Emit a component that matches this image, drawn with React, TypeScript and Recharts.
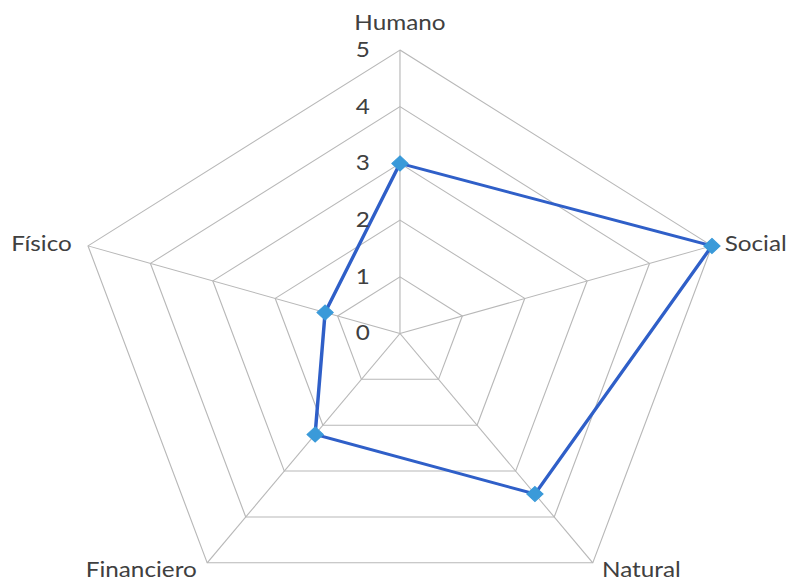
import React from "react";
import {
  RadarChart,
  Radar,
  PolarGrid,
  PolarAngleAxis,
  PolarRadiusAxis,
} from "recharts";

const CATEGORIES = ["Humano", "Social", "Natural", "Financiero", "Físico"];
const VALUES = [3, 5, 3.5, 2.2, 1.2];
const RADIUS_TICKS = [0, 1, 2, 3, 4, 5];

// the original image is stretched horizontally
const STRETCH = 1.157;
const WIDTH = 683;
const HEIGHT = 581;
const OUTER = 283.5;

const TEXT_COLOR = "#404040";
const FONT = "Lato, 'Open Sans', sans-serif";

const LABEL_LAYOUT: Record<string, { anchor: "start" | "middle" | "end"; dx: number; dy: number }> = {
  Humano: { anchor: "middle", dx: 0, dy: -20 },
  Social: { anchor: "start", dx: 11, dy: 5 },
  Natural: { anchor: "start", dx: 8, dy: 14 },
  Financiero: { anchor: "end", dx: -9, dy: 14 },
  Físico: { anchor: "end", dx: -14, dy: 5 },
};

const data = CATEGORIES.map((name, i) => ({ name, value: VALUES[i] }));

function AngleTick(props: any) {
  const { x, y, cx, cy, radius, payload } = props;
  // snap back to the outer vertex of the grid
  let vx = x;
  let vy = y;
  if (cx != null && cy != null) {
    const dx = x - cx;
    const dy = y - cy;
    const d = Math.sqrt(dx * dx + dy * dy) || 1;
    const r = radius != null ? radius : d - 8;
    vx = cx + (dx / d) * r;
    vy = cy + (dy / d) * r;
  }
  const l = LABEL_LAYOUT[payload.value] || { anchor: "middle", dx: 0, dy: 0 };
  return (
    <text
      x={vx + l.dx}
      y={vy + l.dy}
      textAnchor={l.anchor}
      fill={TEXT_COLOR}
      fontSize={21}
      fontFamily={FONT}
    >
      {payload.value}
    </text>
  );
}

function RadiusTick(props: any) {
  const { x, y, payload } = props;
  return (
    <text
      x={x - 26}
      y={y}
      dy={7}
      textAnchor="end"
      fill={TEXT_COLOR}
      fontSize={21}
      fontFamily={FONT}
    >
      {payload.value}
    </text>
  );
}

function Diamond(props: any) {
  const { cx, cy } = props;
  if (cx == null || cy == null) return null;
  const w = 7;
  const h = 7.5;
  return (
    <polygon
      points={`${cx},${cy - h} ${cx + w},${cy} ${cx},${cy + h} ${cx - w},${cy}`}
      fill="#3a9ad9"
      stroke="#3a9ad9"
      strokeWidth={1}
    />
  );
}

export default function App() {
  return (
    <div
      style={{
        position: "absolute",
        left: 0,
        top: 0,
        width: WIDTH,
        height: HEIGHT,
        background: "#fff",
        transform: `scaleX(${STRETCH})`,
        transformOrigin: "0 0",
      }}
    >
      <RadarChart
        width={WIDTH}
        height={HEIGHT}
        data={data}
        cx={345.7}
        cy={333.5}
        outerRadius={OUTER}
        margin={{ top: 0, right: 0, bottom: 0, left: 0 }}
        style={{ overflow: "visible" }}
      >
        <PolarGrid gridType="polygon" stroke="#b8b8b8" strokeWidth={1} />
        <PolarAngleAxis
          dataKey="name"
          tick={<AngleTick />}
          tickLine={false}
          axisLine={false}
        />
        <PolarRadiusAxis
          angle={90}
          domain={[0, 5]}
          ticks={RADIUS_TICKS as any}
          tickCount={6}
          axisLine={false}
          tickLine={false}
          tick={<RadiusTick />}
        />
        <Radar
          dataKey="value"
          stroke="#2f5fc8"
          strokeWidth={3}
          fill="none"
          fillOpacity={0}
          dot={<Diamond />}
          isAnimationActive={false}
        />
      </RadarChart>
    </div>
  );
}
